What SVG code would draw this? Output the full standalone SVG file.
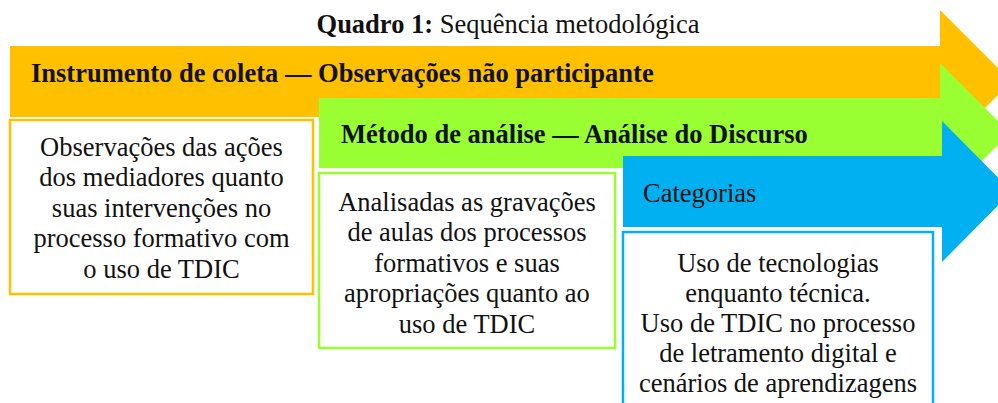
<svg xmlns="http://www.w3.org/2000/svg" width="998" height="403" viewBox="0 0 998 403">
<style>
text{font-family:"Liberation Serif","Times New Roman",serif;font-size:26.5px;fill:#111}
.b{font-weight:bold}
.c{text-anchor:middle}
.box{fill:#fff;stroke-width:2.5}
</style>
<rect width="998" height="403" fill="#fff"/>
<g id="title"><text x="508" y="33" class="c"><tspan class="b">Quadro 1:</tspan> Sequência metodológica</text></g>
<g id="arrow-coleta">
<polygon points="10,46 940,46 940,10 1011.5,81.5 940,153 940,117 10,117" fill="#FFC000"/>
<text x="31" y="82" class="b">Instrumento de coleta — Observações não participante</text>
</g>
<g id="box-coleta">
<rect x="10" y="120" width="303" height="174" class="box" stroke="#FFC000"/>
<text class="c" x="161.5" y="155.7">Observações das ações</text>
<text class="c" x="161.5" y="186.2">dos mediadores quanto</text>
<text class="c" x="161.5" y="216.7">suas intervenções no</text>
<text class="c" x="161.5" y="247.2">processo formativo com</text>
<text class="c" x="161.5" y="277.7">o uso de TDIC</text>
</g>
<g id="arrow-analise">
<polygon points="319,98 940,98 940,63 1010,133 940,203 940,168 319,168" fill="#99FF33"/>
<text x="341" y="143" class="b">Método de análise — Análise do Discurso</text>
</g>
<g id="box-analise">
<rect x="319" y="173" width="296" height="175" class="box" stroke="#99FF33"/>
<text class="c" x="467" y="210.7">Analisadas as gravações</text>
<text class="c" x="467" y="241.2">de aulas dos processos</text>
<text class="c" x="467" y="271.7">formativos e suas</text>
<text class="c" x="467" y="302.2">apropriações quanto ao</text>
<text class="c" x="467" y="332.7">uso de TDIC</text>
</g>
<g id="arrow-categorias">
<polygon points="623,156 942,156 942,121 1012,191.5 942,262 942,227 623,227" fill="#00B0F0"/>
<text x="643" y="202">Categorias</text>
</g>
<g id="box-categorias">
<rect x="623" y="232" width="310" height="190" class="box" stroke="#00B0F0"/>
<text class="c" x="778" y="271.5">Uso de tecnologias</text>
<text class="c" x="778" y="301.7">enquanto técnica.</text>
<text class="c" x="778" y="331.9">Uso de TDIC no processo</text>
<text class="c" x="778" y="362.1">de letramento digital e</text>
<text class="c" x="778" y="392.3">cenários de aprendizagens</text>
</g>
<g id="connectors"></g>
</svg>
